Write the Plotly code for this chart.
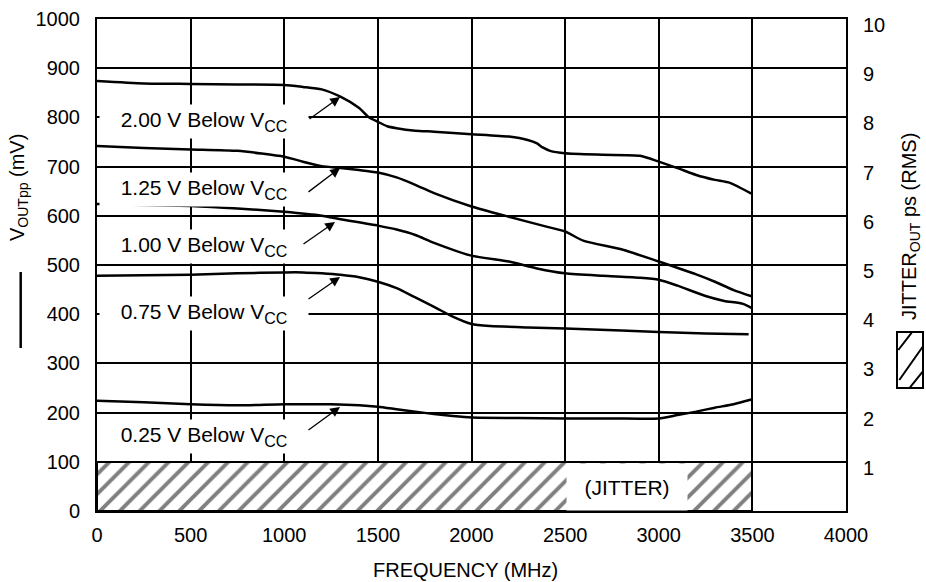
import plotly.graph_objects as go

# ---------------- data ----------------
freq_200 = [0, 250, 500, 750, 1000, 1100, 1200, 1300, 1400, 1450, 1500, 1550, 1600, 1700, 1800,
            2000, 2200, 2300, 2350, 2380, 2420, 2500, 2700, 2900, 3000, 3100, 3200, 3300, 3380, 3500]
vout_200 = [874, 869, 868, 867, 866, 862, 857, 842, 819, 801, 791, 782, 778, 773, 771,
            766, 761, 754, 747, 739, 732, 727, 724, 722, 710, 697, 683, 673, 667, 644]

freq_125 = [0, 250, 500, 750, 1000, 1100, 1200, 1300, 1400, 1500, 1600, 1700, 1800, 2000,
            2200, 2400, 2500, 2600, 2800, 3000, 3200, 3300, 3400, 3500]
vout_125 = [742, 738, 735, 732, 720, 710, 701, 697, 693, 688, 678, 663, 646, 619,
            598, 578, 568, 549, 532, 507, 481, 466, 449, 436]

freq_100 = [0, 250, 500, 750, 1000, 1200, 1300, 1500, 1600, 1700, 1800, 2000, 2200, 2350,
            2500, 2700, 2900, 3000, 3100, 3250, 3350, 3450, 3500]
vout_100 = [624, 622, 620, 615, 608, 600, 593, 580, 572, 561, 545, 519, 507, 493,
            483, 478, 474, 470, 458, 437, 427, 421, 412]

freq_075 = [0, 250, 500, 750, 1000, 1100, 1200, 1300, 1400, 1500, 1600, 1700, 1800, 1900,
            2000, 2100, 2300, 2500, 2800, 3000, 3250, 3480]
vout_075 = [478, 479, 480, 483, 485, 485, 483, 480, 475, 466, 453, 434, 415, 395,
            380, 376, 373, 371, 367, 364, 361, 359]

freq_025 = [0, 250, 500, 750, 1000, 1250, 1400, 1500, 1600, 1700, 1800, 1900, 2000, 2250,
            2500, 2750, 3000, 3100, 3200, 3300, 3400, 3500]
vout_025 = [224, 221, 217, 215, 217, 217, 215, 212, 207, 202, 197, 193, 190, 189,
            188, 188, 188, 195, 202, 210, 217, 227]

series_labels = ["2.00 V Below V", "1.25 V Below V", "1.00 V Below V", "0.75 V Below V", "0.25 V Below V"]

jitter_freq_max = 3500   # MHz
jitter_ps = 1.0          # ps RMS

x_ticks = [0, 500, 1000, 1500, 2000, 2500, 3000, 3500, 4000]
y_ticks = [0, 100, 200, 300, 400, 500, 600, 700, 800, 900, 1000]
y2_ticks = [1, 2, 3, 4, 5, 6, 7, 8, 9, 10]

# ---------------- figure ----------------
W, H = 926, 582
ML, MR, MT, MB = 97, 80, 19, 71
PW, PH = W - ML - MR, H - MT - MB
FONT = "Liberation Sans, Arial, Helvetica, sans-serif"


def px_x(px):
    return (px - ML) / PW


def px_y(py):
    return (H - MB - py) / PH


def dx(px):
    return (px - ML) / PW * 4000


def dy(py):
    return (H - MB - py) / PH * 1000


fig = go.Figure()

fig.add_trace(go.Bar(
    x=[jitter_freq_max / 2], y=[jitter_ps], width=[jitter_freq_max], yaxis="y2",
    marker=dict(color="white", line=dict(color="black", width=2),
                pattern=dict(shape="/", fgcolor="black", bgcolor="white", size=14, solidity=0.28)),
    showlegend=False, hoverinfo="skip"))

for fx, vy in [(freq_200, vout_200), (freq_125, vout_125), (freq_100, vout_100),
               (freq_075, vout_075), (freq_025, vout_025)]:
    fig.add_trace(go.Scatter(x=fx, y=vy, mode="lines",
                             line=dict(color="black", width=2.5, shape="spline", smoothing=0.6),
                             showlegend=False, hoverinfo="skip"))

annotations = []
label_centers_py = [121.5, 189, 246, 313, 436.5]
arrows_px = [((308, 120), (340, 97)), ((307, 193), (340, 168)), ((302, 245), (335, 222)),
             ((307, 300), (340, 277)), ((307, 431), (340, 407))]

for lab, cy in zip(series_labels, label_centers_py):
    annotations.append(dict(
        x=dx(203.5), y=dy(cy), xref="x", yref="y", xanchor="center", yanchor="middle",
        showarrow=False,
        text=lab + "<sub><span style='font-size:16px'>CC</span></sub>",
        width=208, height=33, borderpad=0,
        bgcolor="white", font=dict(family=FONT, size=21, color="black")))

for (t, h) in arrows_px:
    annotations.append(dict(
        x=dx(h[0]), y=dy(h[1]), ax=dx(t[0]), ay=dy(t[1]), xref="x", yref="y",
        axref="x", ayref="y", text="", showarrow=True, arrowhead=2, arrowsize=1.5,
        arrowwidth=1.3, arrowcolor="black", standoff=0, startstandoff=0))

annotations.append(dict(
    x=dx(627), y=dy(486.5), xref="x", yref="y", xanchor="center", yanchor="middle",
    showarrow=False, text="(JITTER)",
    width=120, height=46, borderpad=0, bgcolor="white",
    font=dict(family=FONT, size=21, color="black")))

annotations.append(dict(
    x=px_x(18), y=px_y(188), xref="paper", yref="paper", xanchor="center", yanchor="middle",
    showarrow=False, text="V<sub>OUTpp</sub> (mV)", textangle=-90,
    font=dict(family=FONT, size=20, color="black")))
annotations.append(dict(
    x=px_x(910), y=px_y(226), xref="paper", yref="paper", xanchor="center", yanchor="middle",
    showarrow=False, text="JITTER<sub>OUT</sub> ps (RMS)", textangle=-90,
    font=dict(family=FONT, size=20, color="black")))
annotations.append(dict(
    x=px_x(465), y=px_y(570), xref="paper", yref="paper", xanchor="center", yanchor="middle",
    showarrow=False, text="FREQUENCY (MHz)", font=dict(family=FONT, size=20, color="black")))

shapes = [
    dict(type="line", xref="paper", yref="paper", x0=px_x(20.7), x1=px_x(20.7),
         y0=px_y(272), y1=px_y(348), line=dict(color="black", width=2.5)),
    dict(type="rect", xref="paper", yref="paper", x0=px_x(897), x1=px_x(923),
         y0=px_y(388), y1=px_y(332), line=dict(color="black", width=2)),
    dict(type="line", xref="paper", yref="paper", x0=px_x(898.3), y0=px_y(350),
         x1=px_x(911.7), y1=px_y(332.7), line=dict(color="black", width=2)),
    dict(type="line", xref="paper", yref="paper", x0=px_x(899.3), y0=px_y(380),
         x1=px_x(922.7), y1=px_y(346.7), line=dict(color="black", width=2)),
    dict(type="line", xref="paper", yref="paper", x0=px_x(910), y0=px_y(387.3),
         x1=px_x(922.7), y1=px_y(371.7), line=dict(color="black", width=2)),
]

fig.update_layout(
    width=W, height=H,
    margin=dict(l=ML, r=MR, t=MT, b=MB, pad=0, autoexpand=False),
    paper_bgcolor="white", plot_bgcolor="white",
    font=dict(family=FONT, size=20, color="black"),
    showlegend=False,
    bargap=0,
    xaxis=dict(range=[0, 4000], tickvals=x_ticks, ticktext=[str(v) for v in x_ticks],
               showgrid=True, gridcolor="black", gridwidth=2, automargin=False,
               showline=True, linecolor="black", linewidth=2, mirror=True,
               zeroline=False, ticks="", ticklabelstandoff=5,
               tickfont=dict(family=FONT, size=20, color="black")),
    yaxis=dict(range=[0, 1000], tickvals=y_ticks, ticktext=[str(v) for v in y_ticks],
               showgrid=True, gridcolor="black", gridwidth=2, automargin=False,
               showline=True, linecolor="black", linewidth=2, mirror=True,
               zeroline=False, ticks="inside", ticklen=5, tickwidth=2, tickcolor="black",
               ticklabelstandoff=11,
               tickfont=dict(family=FONT, size=20, color="black")),
    yaxis2=dict(range=[0, 10], overlaying="y", side="right", tickvals=y2_ticks,
                ticktext=[str(v) for v in y2_ticks], showgrid=False, showline=False,
                zeroline=False, ticks="", ticklabelstandoff=16, ticklabelshift=6,
                automargin=False,
                tickfont=dict(family=FONT, size=20, color="black")),
    annotations=annotations,
    shapes=shapes,
)

fig.write_html("out.html", config={"displayModeBar": False},
               post_script="document.body.style.margin='0';document.body.style.overflow='hidden';")
